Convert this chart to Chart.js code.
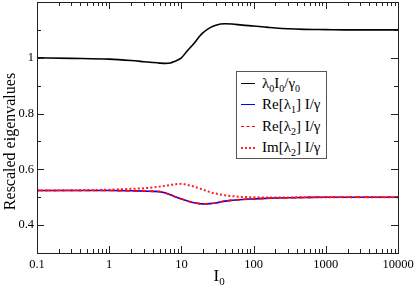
<!DOCTYPE html>
<html>
<head>
<meta charset="utf-8">
<script src="https://cdn.jsdelivr.net/npm/chart.js@4/dist/chart.umd.min.js"></script>
<style>
  html, body { margin: 0; padding: 0; background: #fff; }
  #wrap { position: relative; width: 415px; height: 287px; }
  #legend { position: absolute; left: 236px; top: 71px; width: 91px; height: 88px;
    border: 1px solid #555; background: #fff; box-sizing: border-box;
    font-family: "Liberation Serif", "DejaVu Serif", serif; font-size: 15px; color: #000; }
  .row { position: absolute; left: 0; height: 20px; white-space: nowrap; }
  .sample { position: absolute; left: 4px; width: 14px; height: 0; }
  .lbl { position: absolute; left: 25px; line-height: 15px; }
  .lbl sub { font-size: 10px; vertical-align: -4px; line-height: 0; }
</style>
</head>
<body>
<div id="wrap">
  <canvas id="c" width="415" height="287"></canvas>
  <div id="legend"></div>
</div>
<script>
// ---- data ----
const I0 = [0.1, 0.3, 1, 2, 3, 4, 5, 6, 7, 8, 10, 12, 15, 18, 20, 25, 30, 40, 50, 70, 100, 150, 200, 300, 500, 1000, 2000, 5000, 10000];
const lambda0 = [1.000, 0.998, 0.995, 0.990, 0.986, 0.983, 0.981, 0.980, 0.981, 0.987, 1.000, 1.024, 1.052, 1.078, 1.090, 1.108, 1.117, 1.122, 1.121, 1.117, 1.114, 1.110, 1.107, 1.104, 1.102, 1.101, 1.100, 1.100, 1.100];
const reLambda1 = [0.524, 0.524, 0.524, 0.523, 0.522, 0.521, 0.520, 0.515, 0.509, 0.503, 0.494, 0.487, 0.480, 0.477, 0.476, 0.477, 0.479, 0.486, 0.489, 0.492, 0.494, 0.496, 0.497, 0.498, 0.499, 0.500, 0.500, 0.500, 0.500];
const reLambda2 = [0.524, 0.524, 0.524, 0.523, 0.522, 0.521, 0.520, 0.515, 0.509, 0.503, 0.494, 0.487, 0.480, 0.477, 0.476, 0.477, 0.479, 0.486, 0.489, 0.492, 0.494, 0.496, 0.497, 0.498, 0.499, 0.500, 0.500, 0.500, 0.500];
const imLambda2 = [0.524, 0.525, 0.527, 0.530, 0.532, 0.535, 0.538, 0.541, 0.544, 0.546, 0.548, 0.544, 0.538, 0.531, 0.527, 0.518, 0.513, 0.507, 0.504, 0.501, 0.500, 0.499, 0.499, 0.499, 0.500, 0.500, 0.500, 0.500, 0.500];
const xTickLabels = ["0.1", "1", "10", "100", "1000", "10000"];
const yTickLabels = ["0.4", "0.6", "0.8", "1"];
const seriesLabels = ["λ₀I₀/γ₀", "Re[λ₁] I/γ", "Re[λ₂] I/γ", "Im[λ₂] I/γ"];
const seriesHtml = ["λ<sub>0</sub>I<sub>0</sub>/γ<sub>0</sub>", "Re[λ<sub>1</sub>] I/γ", "Re[λ<sub>2</sub>] I/γ", "Im[λ<sub>2</sub>] I/γ"];
const xTitle = "I";
const xTitleSub = "0";
const yTitle = "Rescaled eigenvalues";

const pts = ys => I0.map((x, i) => ({ x: x, y: ys[i] }));
const SERIF = '"Liberation Serif", "DejaVu Serif", serif';
Chart.defaults.font.family = SERIF;

const styles = [
  { color: '#000000', dash: [], width: 1.6, order: 4, css: 'solid' },
  { color: '#0000ff', dash: [], width: 1.6, order: 3, css: 'solid' },
  { color: '#ff0000', dash: [5, 3], width: 1.6, order: 1, css: 'dashed' },
  { color: '#ff2020', dash: [2, 2.2], width: 2, order: 2, css: 'dotted' }
];
const allSeries = [lambda0, reLambda1, reLambda2, imLambda2];

const frameTicks = {
  id: 'frameTicks',
  afterDraw(chart) {
    const ctx = chart.ctx, a = chart.chartArea;
    const xs = chart.scales.x, ys = chart.scales.y;
    ctx.save();
    ctx.strokeStyle = '#222';
    ctx.lineWidth = 1;
    ctx.beginPath();
    for (let e = -1; e <= 4; e++) {
      for (let k = 1; k <= 9; k++) {
        const v = k * Math.pow(10, e);
        if (v > 10000 * 1.0001) break;
        const px = Math.round(xs.getPixelForValue(v)) + 0.5;
        const len = k === 1 ? 7 : 4;
        ctx.moveTo(px, a.bottom); ctx.lineTo(px, a.bottom - len);
        ctx.moveTo(px, a.top); ctx.lineTo(px, a.top + len);
      }
    }
    for (let k = 3; k <= 12; k++) {
      const v = k / 10;
      const py = Math.round(ys.getPixelForValue(v)) + 0.5;
      const len = k % 2 === 0 ? 7 : 4;
      ctx.moveTo(a.left, py); ctx.lineTo(a.left + len, py);
      ctx.moveTo(a.right, py); ctx.lineTo(a.right - len, py);
    }
    ctx.stroke();
    ctx.strokeRect(Math.round(a.left) + 0.5, Math.round(a.top) + 0.5, Math.round(a.right - a.left), Math.round(a.bottom - a.top));
    ctx.fillStyle = '#000';
    ctx.textBaseline = 'alphabetic';
    ctx.font = '17px ' + SERIF;
    const cx = (a.left + a.right) / 2 - 4;
    ctx.textAlign = 'left';
    ctx.fillText(xTitle, cx, 281);
    const w = ctx.measureText(xTitle).width;
    ctx.font = '11px ' + SERIF;
    ctx.fillText(xTitleSub, cx + w, 285);
    ctx.save();
    ctx.translate(15, 141.5);
    ctx.rotate(-Math.PI / 2);
    ctx.textAlign = 'center';
    ctx.font = '16px ' + SERIF;
    ctx.fillText(yTitle, 0, 0);
    ctx.restore();
    ctx.restore();
  }
};

new Chart(document.getElementById('c'), {
  type: 'scatter',
  data: {
    datasets: allSeries.map((ys, i) => ({
      label: seriesLabels[i],
      data: pts(ys),
      showLine: true,
      borderColor: styles[i].color,
      backgroundColor: styles[i].color,
      borderDash: styles[i].dash,
      borderWidth: styles[i].width,
      pointRadius: 0,
      cubicInterpolationMode: 'monotone',
      order: styles[i].order
    }))
  },
  options: {
    responsive: false,
    animation: false,
    layout: { padding: { top: 2, right: 17, left: 0, bottom: 0 } },
    plugins: { legend: { display: false }, tooltip: { enabled: false } },
    scales: {
      x: {
        type: 'logarithmic',
        min: 0.1, max: 10000,
        grid: { display: false, drawTicks: false },
        border: { display: false },
        afterFit: s => { s.height = 34; s.paddingLeft = 0; s.paddingRight = 0; },
        afterBuildTicks: s => { s.ticks = xTickLabels.map(t => ({ value: parseFloat(t) })); },
        ticks: {
          autoSkip: false, maxRotation: 0, padding: 4, color: '#000',
          font: { family: SERIF, size: 12.5 },
          callback: (v) => { const i = xTickLabels.map(parseFloat).indexOf(v); return i >= 0 ? xTickLabels[i] : ''; }
        }
      },
      y: {
        type: 'linear',
        min: 0.3, max: 1.2,
        grid: { display: false, drawTicks: false },
        border: { display: false },
        afterFit: s => { s.width = 37; s.paddingTop = 0; s.paddingBottom = 0; },
        afterBuildTicks: s => { s.ticks = yTickLabels.map(t => ({ value: parseFloat(t) })); },
        ticks: {
          autoSkip: false, padding: 3, color: '#000',
          font: { family: SERIF, size: 12.5 },
          callback: (v) => { const i = yTickLabels.map(parseFloat).findIndex(t => Math.abs(t - v) < 1e-6); return i >= 0 ? yTickLabels[i] : ''; }
        }
      }
    }
  },
  plugins: [frameTicks]
});

const leg = document.getElementById('legend');
const rowTops = [3, 24, 46, 67];
seriesHtml.forEach((h, i) => {
  const row = document.createElement('div');
  row.className = 'row';
  row.style.top = rowTops[i] + 'px';
  const s = document.createElement('div');
  s.className = 'sample';
  s.style.top = '8px';
  s.style.borderTop = (styles[i].css === 'dotted' ? '2px ' : '1.6px ') + styles[i].css + ' ' + styles[i].color;
  const t = document.createElement('div');
  t.className = 'lbl';
  t.style.top = '1px';
  t.innerHTML = h;
  row.appendChild(s); row.appendChild(t);
  leg.appendChild(row);
});
</script>
</body>
</html>
